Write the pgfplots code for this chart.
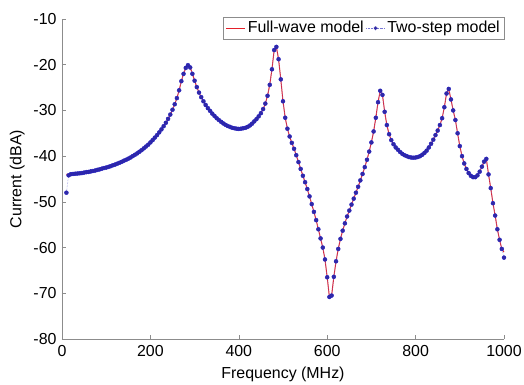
\documentclass[border=0pt]{standalone}
\usepackage{pgfplots}
\pgfplotsset{compat=1.18}
\usepackage{pgfplotstable}
\usepackage{fontspec}
\setmainfont{Liberation Sans}
\definecolor{fwred}{RGB}{228,32,42}
\definecolor{tsblue}{RGB}{48,42,165}
\definecolor{tsline}{RGB}{120,120,215}
\definecolor{axgray}{RGB}{140,140,140}

\pgfplotstableread{
f fw ts
10 -44.0 -48.0
15 -44.0 -44.2
20 -43.95 -43.95
25 -43.9 -43.9
30 -43.85 -43.85
35 -43.8 -43.8
40 -43.75 -43.75
45 -43.7 -43.7
50 -43.6 -43.6
55 -43.5 -43.5
60 -43.45 -43.45
65 -43.35 -43.35
70 -43.25 -43.25
75 -43.15 -43.15
80 -43.0 -43.0
85 -42.9 -42.9
90 -42.75 -42.75
95 -42.6 -42.6
100 -42.5 -42.5
105 -42.35 -42.35
110 -42.2 -42.2
115 -42.0 -42.0
120 -41.85 -41.85
125 -41.65 -41.65
130 -41.45 -41.45
135 -41.25 -41.25
140 -41.0 -41.0
145 -40.8 -40.8
150 -40.55 -40.55
155 -40.3 -40.3
160 -40.0 -40.0
165 -39.7 -39.7
170 -39.4 -39.4
175 -39.05 -39.05
180 -38.7 -38.7
185 -38.3 -38.3
190 -37.9 -37.9
195 -37.5 -37.5
200 -37.0 -37.0
205 -36.5 -36.5
210 -35.95 -35.95
215 -35.4 -35.4
220 -34.8 -34.8
225 -34.15 -34.15
230 -33.45 -33.45
235 -32.7 -32.7
240 -31.85 -31.85
245 -30.9 -30.9
250 -29.85 -29.85
255 -28.65 -28.65
260 -27.3 -27.3
265 -25.6 -25.6
270 -23.6 -23.6
275 -22.0 -22.0
280 -20.7 -20.7
285 -20.1 -20.1
290 -20.6 -20.6
295 -22.0 -22.0
300 -23.5 -23.5
305 -24.9 -24.9
310 -26.1 -26.1
315 -27.1 -27.1
320 -28.0 -28.0
325 -28.8 -28.8
330 -29.5 -29.5
335 -30.1 -30.1
340 -30.7 -30.7
345 -31.2 -31.2
350 -31.7 -31.7
355 -32.1 -32.1
360 -32.5 -32.5
365 -32.85 -32.85
370 -33.15 -33.15
375 -33.4 -33.4
380 -33.6 -33.6
385 -33.8 -33.8
390 -33.9 -33.9
395 -34.0 -34.0
400 -34.05 -34.05
405 -34.0 -34.0
410 -33.9 -33.9
415 -33.8 -33.8
420 -33.6 -33.6
425 -33.3 -33.3
430 -32.9 -32.9
435 -32.4 -32.4
440 -31.9 -31.9
445 -31.3 -31.3
450 -30.6 -30.6
455 -29.7 -29.7
460 -28.5 -28.5
465 -26.8 -26.8
470 -24.4 -24.4
475 -21.0 -21.0
480 -16.8 -16.8
485 -16.1 -16.1
490 -18.8 -18.8
495 -23.2 -23.2
500 -28.0 -28.0
505 -31.6 -31.6
510 -34.0 -34.0
515 -35.7 -35.7
520 -37.1 -37.1
525 -38.4 -38.4
530 -39.8 -39.8
535 -41.3 -41.3
540 -42.8 -42.8
545 -44.3 -44.3
550 -45.7 -45.7
555 -47.2 -47.2
560 -48.8 -48.8
565 -50.5 -50.5
570 -52.2 -52.2
575 -54.0 -54.0
580 -56.0 -56.0
585 -58.0 -58.0
590 -60.0 -60.0
595 -62.6 -62.6
600 -66.5 -66.5
605 -70.8 -70.8
610 -70.5 -70.5
615 -66.4 -66.4
620 -63.0 -63.0
625 -60.3 -60.3
630 -58.1 -58.1
635 -56.3 -56.3
640 -54.7 -54.7
645 -53.2 -53.2
650 -51.9 -51.9
655 -50.6 -50.6
660 -49.3 -49.3
665 -48.0 -48.0
670 -46.7 -46.7
675 -45.3 -45.3
680 -43.9 -43.9
685 -42.4 -42.4
690 -40.8 -40.8
695 -39.0 -39.0
700 -37.0 -37.0
705 -34.6 -34.6
710 -31.6 -31.6
715 -28.2 -28.2
720 -25.7 -25.7
725 -26.6 -26.6
730 -30.3 -30.3
735 -33.2 -33.2
740 -35.2 -35.2
745 -36.5 -36.5
750 -37.4 -37.4
755 -38.1 -38.1
760 -38.6 -38.6
765 -39.1 -39.1
770 -39.5 -39.5
775 -39.8 -39.8
780 -40.0 -40.0
785 -40.2 -40.2
790 -40.3 -40.3
795 -40.35 -40.35
800 -40.3 -40.3
805 -40.2 -40.2
810 -40.0 -40.0
815 -39.7 -39.7
820 -39.3 -39.3
825 -38.8 -38.8
830 -38.1 -38.1
835 -37.3 -37.3
840 -36.4 -36.4
845 -35.4 -35.4
850 -34.4 -34.4
855 -33.2 -33.2
860 -31.7 -31.7
865 -29.3 -29.3
870 -26.3 -26.3
875 -25.3 -25.3
880 -27.6 -27.6
885 -30.0 -30.0
890 -32.1 -32.1
895 -35.0 -35.0
900 -37.8 -37.8
905 -40.0 -40.0
910 -41.6 -41.6
915 -42.8 -42.8
920 -43.7 -43.7
925 -44.3 -44.3
930 -44.6 -44.6
935 -44.6 -44.6
940 -44.2 -44.2
945 -43.4 -43.4
950 -42.3 -42.3
955 -41.2 -41.2
960 -40.6 -40.6
965 -44.0 -44.0
970 -47.0 -47.0
975 -50.3 -50.3
980 -53.0 -53.0
985 -56.0 -56.0
990 -58.3 -58.3
995 -60.3 -60.3
1000 -61.0 -62.2
}\data

\begin{document}
\fontsize{16}{19}\selectfont
\begin{tikzpicture}
\begin{axis}[
  scale only axis,
  width=442bp, height=320bp,
  xmin=0, xmax=1000, ymin=-80, ymax=-10,
  xtick={0,200,...,1000},
  ytick={-80,-70,...,-10},
  axis lines*=left,
  axis line style={axgray, line width=0.8pt},
  tick align=inside,
  major tick length=4bp,
  tick style={axgray, line width=0.6pt},
  /pgf/number format/assume math mode=true,
  /pgf/number format/1000 sep={},
  tick label style={font=\fontsize{16}{19}\selectfont, black},
  xticklabel style={yshift=-1bp},
  xlabel={Frequency (MHz)},
  ylabel={Current (dBA)},
  label style={font=\fontsize{16}{19}\selectfont},
  xlabel style={yshift=1bp},
  ylabel style={yshift=-2bp},
  clip=false,
  legend columns=2,
  legend cell align=left,
  legend style={at={(1,1)}, anchor=north east, yshift=2bp,
    draw=axgray, fill=white, font=\fontsize{16}{19}\selectfont,
    inner sep=2bp, row sep=0pt,
    /tikz/every even column/.append style={column sep=0bp}},
]
\coordinate (A) at (rel axis cs:0,0);
\coordinate (B) at (rel axis cs:1,1);
\addplot[fwred, line width=1pt,
  legend image code/.code={\draw[fwred, line width=1.2pt] (0bp,0bp) -- (19bp,0bp);}]
  table[x=f, y=fw] {\data};
\addlegendentry{Full-wave model}
\addplot[tsline, densely dotted, line width=0.5pt, mark=*, mark size=2bp,
  mark options={solid, fill=tsblue, draw=tsblue!70!blue, line width=0.4pt},
  legend image code/.code={%
    \draw[tsline, densely dotted, line width=0.5pt] (0bp,0bp) -- (19bp,0bp);
    \fill[tsblue] (9.5bp,0bp) circle (1.8bp);}]
  table[x=f, y=ts] {\data};
\addlegendentry{Two-step model}
\end{axis}
\pgfresetboundingbox
\path[use as bounding box] ([shift={(-62bp,-46bp)}]A) rectangle ([shift={(20bp,19bp)}]B);
\end{tikzpicture}
\end{document}
